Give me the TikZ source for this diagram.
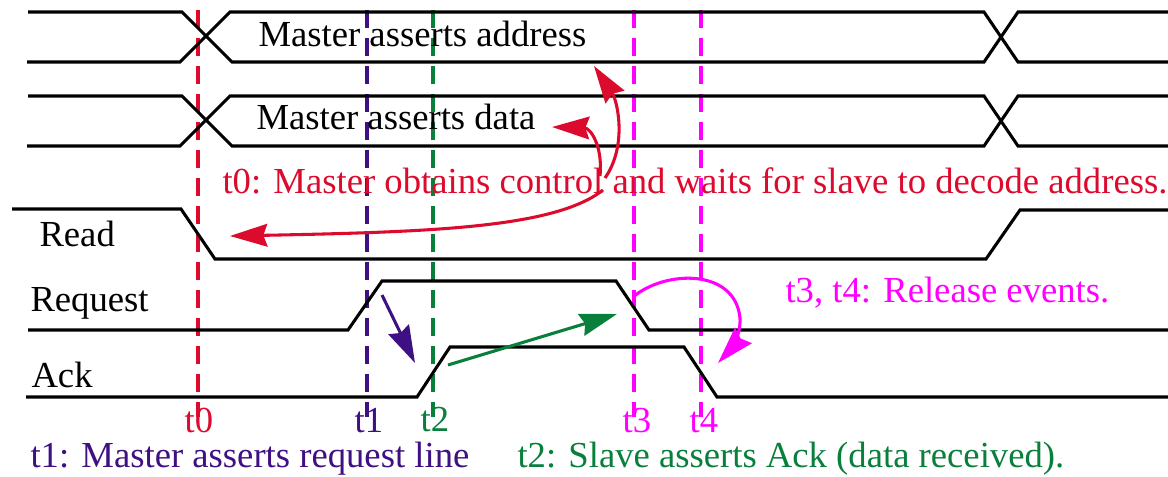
\documentclass[tikz,border=0pt]{standalone}
\usepackage{fontspec}
\setmainfont{Liberation Serif}
\usepackage{tikz}
\usetikzlibrary{positioning,arrows.meta}
\tikzset{every picture/.style={line width=0.75pt}}
\definecolor{tzero}{RGB}{220,10,45}
\definecolor{tone}{RGB}{62,16,132}
\definecolor{ttwo}{RGB}{8,128,60}
\definecolor{trel}{RGB}{255,0,255}
\tikzset{
  wave/.style={draw=black, line width=2.3pt, line join=miter},
  tline/.style={dash pattern=on 13.5pt off 7.5pt, line width=2.3pt},
  lbl/.style={inner sep=0pt, anchor=base west, font=\fontsize{27.5}{32}\selectfont},
  tlabel/.style={inner sep=0pt, anchor=base, font=\fontsize{27.5}{32}\selectfont},
  evarrow/.style={line width=2.3pt, -{Stealth[length=28pt,width=17pt,inset=3pt]}},
}

\begin{document}
\begin{tikzpicture}[x=0.75pt,y=0.75pt,yscale=-1,xscale=1]

\useasboundingbox (0,0) rectangle (1168,476);

%Dashed time lines
\draw [tline, tzero] (198,10) -- (198,417) ;
\draw [tline, tone] (367,10) -- (367,417) ;
\draw [tline, ttwo] (433,10) -- (433,417) ;
\draw [tline, trel] (634,10) -- (634,417) ;
\draw [tline, trel] (701,10) -- (701,417) ;

%Address bus
\draw [wave] (28,12) -- (182,12) -- (232,62) -- (984,62) -- (1018,12) -- (1168,12) ;
\draw [wave] (27,62) -- (180,62) -- (230,12) -- (984,12) -- (1018,62) -- (1168,62) ;
%Data bus
\draw [wave] (28,96) -- (182,96) -- (232,146) -- (984,146) -- (1018,96) -- (1168,96) ;
\draw [wave] (27,146) -- (180,146) -- (230,96) -- (984,96) -- (1018,146) -- (1168,146) ;
%Read
\draw [wave] (12,209) -- (181,209) -- (215,259) -- (986,259) -- (1020,210) -- (1168,210) ;
%Request
\draw [wave] (28,330) -- (348,330) -- (382,281) -- (616,281) -- (649,330) -- (1168,330) ;
%Ack
\draw [wave] (26,397) -- (417,397) -- (450,347) -- (684,347) -- (717,397) -- (1168,397) ;

% Text Node
\node [lbl] (addr) at (258,46) {Master asserts address};
% Text Node
\node [lbl] (data) at (256,129) {Master asserts data};
% Text Node
\node [lbl] (readlbl) at (39,246) {Read};
% Text Node
\node [lbl] (reqlbl) at (30,311) {Request};
% Text Node
\node [lbl] (acklbl) at (31,387) {Ack};
% Text Node
\node [lbl, text=tzero] (msgzero) at (222,193) {t0: Master obtains control and waits for slave to decode address.};
% Text Node
\node [lbl, text=trel] (msgrel) at (785,302) {t3, t4: Release events.};
% Text Node
\node [lbl, text=tone] (msgone) at (30,467) {t1: Master asserts request line};
% Text Node
\node [lbl, text=ttwo] (msgtwo) at (517,467) {t2: Slave asserts Ack (data received).};
% Time labels
\node [tlabel, text=tzero] (tlab0) at (199,432) {t0};
\node [tlabel, text=tone] (tlab1) at (369,432) {t1};
\node [tlabel, text=ttwo] (tlab2) at (435,431) {t2};
\node [tlabel, text=trel] (tlab3) at (637,432) {t3};
\node [tlabel, text=trel] (tlab4) at (704,432) {t4};

%Arrow end points
\coordinate (srcup) at (605,178);
\coordinate (srcleft) at (600,176);
\coordinate (srcread) at (603,190);
\coordinate (tipaddr) at (594,66);
\coordinate (tipdata) at (552,127);
\coordinate (tipread) at (230,236);
\coordinate (reqtop) at (382,295);
\coordinate (ackfoot) at (415,363);
\coordinate (ackrise) at (448,365);
\coordinate (reqfall) at (617,314);
\coordinate (relstart) at (633,297);
\coordinate (relturn) at (740,318);
\coordinate (reltip) at (718,363);

%Curved arrows
\draw [evarrow, tzero] (srcup) .. controls (628,145) and (617,100) .. (tipaddr) ;
\draw [evarrow, tzero] (srcleft) .. controls (603,145) and (590,128) .. (tipdata) ;
\draw [evarrow, tzero] (srcread) .. controls (555,228) and (430,232) .. (tipread) ;
%Straight Lines
\draw [evarrow, tone] (reqtop) -- (ackfoot) ;
\draw [evarrow, ttwo] (ackrise) -- (reqfall) ;
\draw [evarrow, trel] (relstart) .. controls (665,270) and (735,268) .. (relturn) .. controls (741,335) and (730,350) .. (reltip) ;

\end{tikzpicture}
\end{document}
